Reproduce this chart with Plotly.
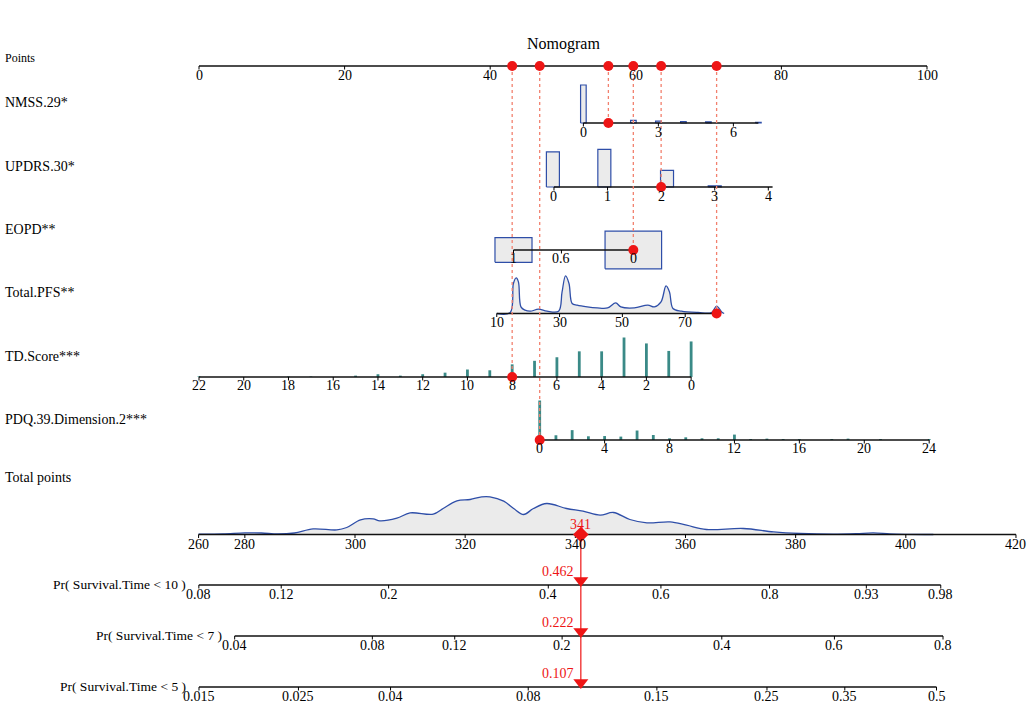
import math
import plotly.graph_objects as go

# ----------------------------- data -----------------------------
points_ticks = [0, 20, 40, 60, 80, 100]

nmss_ticks = [0, 3, 6]
nmss_axis = [0, 7]
nmss_bins = [0, 1, 2, 3, 4, 5, 7]
nmss_freq = [100, 4, 7, 5, 4, 3, 2]

updrs_ticks = [0, 1, 2, 3, 4]
updrs_axis = [0, 4.08]
updrs_bins = [-0.02, 0.94, 2.11, 3.0]
updrs_freq = [93, 100, 44, 3]

eopd_ticks = [1, 0.6, 0]
eopd_levels = [1, 0]
eopd_prop = [0.30, 0.70]

pfs_ticks = [10, 30, 50, 70]
pfs_axis = [10, 80]
pfs_x = [10, 14.3, 15.3, 16.2, 16.9, 17.7, 19, 20.7, 23.3, 26, 29.7, 30.8, 31.9, 33, 34,
         35.6, 38.8, 42, 45.3, 47.9, 49.5, 53.8, 58.1, 60.2, 62.3, 63.9, 65, 66.1, 68.8,
         74.1, 78.4, 80, 81.6, 82.4]
pfs_dens = [0, 1, 30, 35.6, 31.6, 6.6, 3.3, 2.3, 4.3, 2.3, 2.3, 21.6, 37.6, 30, 10,
            8.3, 6.6, 5.6, 5.6, 10.6, 6.6, 5.6, 8.3, 6.6, 11.6, 27.6, 21.6, 5, 2.3,
            1, 1, 7.3, 1.6, 0]

td_ticks = [22, 20, 18, 16, 14, 12, 10, 8, 6, 4, 2, 0]
td_axis = [22, 0]
td_bins = [22, 18, 17, 15, 14, 13, 12, 11, 10, 9, 8, 7, 6, 5, 4, 3, 2, 1, 0]
td_freq = [1.8, 1.3, 1.3, 3.5, 7, 3.5, 7, 11, 19, 17, 32, 41, 50, 65, 65, 100, 85, 66, 90]

pdq_ticks = [0, 4, 8, 12, 16, 20, 24]
pdq_axis = [0, 24]
pdq_bins = [0, 1, 2, 3, 4, 5, 6, 7, 8, 9, 10, 11, 12, 13, 14, 15, 16, 18, 19, 21, 24]
pdq_freq = [100, 12, 25, 9.4, 10, 8.6, 24, 12.7, 4.3, 6.8, 4.3, 4.3, 13.7, 2.5, 3.5,
            2.5, 2.5, 2.5, 3.5, 2.5, 2.5]

total_ticks = [280, 300, 320, 340, 360, 380, 400, 420]
total_axis = [271.6, 420]
total_start_label = "260"
total_x = [271.6, 276, 280, 283, 286, 289, 292.4, 296.7, 298.5, 301, 303.3, 304.5, 307.6,
           310, 314.2, 316, 318.5, 320.9, 323, 324.5, 327, 328.8, 330.6, 332.4, 334.8,
           338.4, 341.4, 344.5, 346.9, 349.9, 353, 357.2, 360.2, 363.8, 370.5, 376,
           380.8, 386.8, 391, 394.1, 397.1, 400, 405]
total_dens = [0.3, 0.5, 1.6, 1.5, 0.5, 1.5, 5.6, 4.6, 7, 14.6, 15.6, 13.6, 16.3,
              21.6, 20.3, 26, 33.6, 35, 37.6, 37.6, 33.3, 26, 20, 26, 31,
              26, 23.3, 19.3, 22, 15, 11.6, 12.6, 9.3, 5, 6, 2.6,
              1, 0.3, 0.8, 1.6, 0.6, 0.2, 0]

pr_labels = ["Pr( Survival.Time < 10 )", "Pr( Survival.Time < 7 )", "Pr( Survival.Time < 5 )"]
pr_ticks = [[0.08, 0.12, 0.2, 0.4, 0.6, 0.8, 0.93, 0.98],
            [0.04, 0.08, 0.12, 0.2, 0.4, 0.6, 0.8],
            [0.015, 0.025, 0.04, 0.08, 0.15, 0.25, 0.35, 0.5]]
pr_intercept = [358.6, 390.1, 418.4]   # total points where cloglog(p) = 0
pr_slope = 35.0                         # total points per cloglog unit

# patient
pat_nmss, pat_updrs, pat_eopd, pat_pfs, pat_td, pat_pdq = 1, 2, 0, 80, 8, 0
pat_total = 341
pat_probs = ["0.462", "0.222", "0.107"]

row_labels = ["Points", "NMSS.29*", "UPDRS.30*", "EOPD**", "Total.PFS**",
              "TD.Score***", "PDQ.39.Dimension.2***", "Total points"]

# ----------------------------- scales (value -> points) -----------------------------
def lin(v0, p0, v1, p1):
    return lambda v: p0 + (v - v0) * (p1 - p0) / (v1 - v0)

nmss_s = lin(0, 52.8, 7, 52.8 + 7 * 3.434)
upd_s = lin(0, 48.76, 4, 78.2)
eopd_s = lin(1, 43.2, 0, 59.66)
pfs_s = lin(10, 40.9, 80, 71.1)
td_s = lin(22, 0.0, 0, 67.6)
pdq_s = lin(0, 46.8, 24, 100.3)
tot_s = lin(300, 21.43, 420, 21.43 + 120 * 0.7566)


def pr_s(i):
    return lambda p: tot_s(pr_intercept[i] + pr_slope * math.log(-math.log(1 - p)))


# ----------------------------- layout constants -----------------------------
W, H = 1030, 704
X0, PXU = 199.0, 7.28          # pixel of 0 points, pixels per point
FONT = "Liberation Serif, Times New Roman, serif"
BLUE = "#2E4EA8"
GRAYF = "#EBEBEB"
TEAL = "#3A8A87"
RED = "#EE1515"
DOT = "#F2806E"
TICK_FS = 14

Y_PTS, Y_NMSS, Y_UPD, Y_EOPD, Y_PFS, Y_TD, Y_PDQ, Y_TOT = 66, 123, 187, 250, 313.5, 377, 440, 534.5
Y_PR = [585, 636, 687]
LABEL_Y = [58, 102, 166, 229, 292, 356, 419, 477]


def w(px):
    return px / PXU


fig = go.Figure()


def line_tr(xs, ys, color="black", width=1.3, dash=None, shape="linear"):
    fig.add_trace(go.Scatter(x=xs, y=ys, mode="lines", hoverinfo="skip",
                             line=dict(color=color, width=width, dash=dash, shape=shape)))


def add_axis(p0, p1, y, tick_pts, tick_txt, dy=9.0, size=TICK_FS):
    line_tr([p0, p1], [y, y], width=1.5, color="#111111")
    xs, ys = [], []
    for p in tick_pts:
        xs += [p, p, None]
        ys += [y, y + 3.5, None]
    line_tr(xs, ys, width=1)
    for p, t in zip(tick_pts, tick_txt):
        fig.add_annotation(x=p, y=y + dy, text=t, showarrow=False, xanchor="center",
                           yanchor="middle", font=dict(family=FONT, size=size, color="black"))


def rect_trace(cx, widths, y0s, y1s, fill, lcolor, lw=1.2):
    xs, ys = [], []
    for c, ww, a, b in zip(cx, widths, y0s, y1s):
        xs += [c - ww / 2, c - ww / 2, c + ww / 2, c + ww / 2, c - ww / 2, None]
        ys += [a, b, b, a, a, None]
    fig.add_trace(go.Scatter(x=xs, y=ys, mode="lines", fill="toself", fillcolor=fill,
                             hoverinfo="skip", line=dict(color=lcolor, width=lw)))


def density(xp, hp, base):
    fig.add_trace(go.Scatter(x=xp + xp[::-1], y=[base - h for h in hp] + [base] * len(hp),
                             mode="lines", fill="toself", fillcolor=GRAYF, hoverinfo="skip",
                             line=dict(width=0, color=GRAYF)))
    line_tr(xp, [base - h for h in hp], color=BLUE, width=1.3, shape="spline")


def sticks(xp, hp, base):
    xs, ys = [], []
    for x, h in zip(xp, hp):
        xs += [x, x, None]
        ys += [base, base - h, None]
    line_tr(xs, ys, color=TEAL, width=2.8)


def fmt(v):
    return f"{v:g}"


# ---- NMSS histogram
hmax = 38.0
rect_trace([nmss_s(v) for v in nmss_bins], [w(5.6)] * len(nmss_bins),
           [Y_NMSS] * len(nmss_bins), [Y_NMSS - f / max(nmss_freq) * hmax for f in nmss_freq],
           GRAYF, BLUE)
# ---- UPDRS histogram
hmax = 37.7
rect_trace([upd_s(v) for v in updrs_bins], [w(13)] * len(updrs_bins),
           [Y_UPD] * len(updrs_bins), [Y_UPD - f / max(updrs_freq) * hmax for f in updrs_freq],
           GRAYF, BLUE)
# ---- EOPD boxes
rect_trace([eopd_s(v) for v in eopd_levels], [w(67.6 * math.sqrt(p)) for p in eopd_prop],
           [Y_EOPD + 22.5 * math.sqrt(p) for p in eopd_prop],
           [Y_EOPD - 22.5 * math.sqrt(p) for p in eopd_prop], GRAYF, BLUE)
# ---- PFS density
density([pfs_s(v) for v in pfs_x], [d / max(pfs_dens) * 37.6 for d in pfs_dens], Y_PFS)
# ---- Total points density
density([tot_s(v) for v in total_x], [d / max(total_dens) * 37.6 for d in total_dens], Y_TOT)

# ---- axes
add_axis(points_ticks[0], points_ticks[-1], Y_PTS, points_ticks, [fmt(v) for v in points_ticks])
add_axis(nmss_s(nmss_axis[0]), nmss_s(nmss_axis[1]), Y_NMSS, [nmss_s(v) for v in nmss_ticks],
         [fmt(v) for v in nmss_ticks])
add_axis(upd_s(updrs_axis[0]), upd_s(updrs_axis[1]), Y_UPD, [upd_s(v) for v in updrs_ticks],
         [fmt(v) for v in updrs_ticks])
add_axis(eopd_s(eopd_ticks[0]), eopd_s(eopd_ticks[-1]), Y_EOPD, [eopd_s(v) for v in eopd_ticks],
         [fmt(v) for v in eopd_ticks], dy=8.5)
add_axis(pfs_s(pfs_axis[0]), pfs_s(pfs_axis[1]), Y_PFS, [pfs_s(v) for v in pfs_ticks],
         [fmt(v) for v in pfs_ticks])

# ---- TD / PDQ sticks then axes
sticks([td_s(v) for v in td_bins], [f / max(td_freq) * 39.5 for f in td_freq], Y_TD)
sticks([pdq_s(v) for v in pdq_bins], [f / max(pdq_freq) * 39.5 for f in pdq_freq], Y_PDQ)
add_axis(td_s(td_axis[0]), td_s(td_axis[1]), Y_TD, [td_s(v) for v in td_ticks],
         [fmt(v) for v in td_ticks], dy=8.5)
add_axis(pdq_s(pdq_axis[0]), pdq_s(pdq_axis[1]), Y_PDQ, [pdq_s(v) for v in pdq_ticks],
         [fmt(v) for v in pdq_ticks], dy=8.5)

# ---- total points axis
add_axis(tot_s(total_axis[0]), tot_s(total_axis[1]), Y_TOT,
         [tot_s(total_axis[0])] + [tot_s(v) for v in total_ticks],
         [total_start_label] + [fmt(v) for v in total_ticks], dy=10)

# ---- probability axes
for i, (lab, ticks) in enumerate(zip(pr_labels, pr_ticks)):
    s = pr_s(i)
    add_axis(s(ticks[0]), s(ticks[-1]), Y_PR[i], [s(p) for p in ticks], [fmt(p) for p in ticks],
             dy=9.5)
    fig.add_annotation(x=s(ticks[0]) - w(11), y=Y_PR[i] - 1, text=lab, showarrow=False,
                       xanchor="right", yanchor="middle",
                       font=dict(family=FONT, size=13.5, color="black"))

# ---- patient projection (dotted lines + red dots)
pat = [(td_s(pat_td), Y_TD), (pdq_s(pat_pdq), Y_PDQ), (nmss_s(pat_nmss), Y_NMSS),
       (eopd_s(pat_eopd), Y_EOPD), (upd_s(pat_updrs), Y_UPD), (pfs_s(pat_pfs), Y_PFS)]
xs, ys = [], []
for p, y in pat:
    xs += [p, p, None]
    ys += [Y_PTS, y, None]
line_tr(xs, ys, color=DOT, width=1.3, dash="dot")
fig.add_trace(go.Scatter(x=[p for p, _ in pat] * 2, y=[Y_PTS] * len(pat) + [y for _, y in pat],
                         mode="markers", hoverinfo="skip",
                         marker=dict(color=RED, size=10, line=dict(width=0))))

# ---- total points -> probabilities
tx = tot_s(pat_total)
line_tr([tx, tx], [Y_TOT, Y_PR[-1]], color=RED, width=1.2)
fig.add_trace(go.Scatter(x=[tx], y=[Y_TOT], mode="markers", hoverinfo="skip",
                         marker=dict(symbol="diamond", color=RED, size=12, line=dict(width=0))))
fig.add_trace(go.Scatter(x=[tx] * 3, y=[y - 4.5 for y in Y_PR], mode="markers", hoverinfo="skip",
                         marker=dict(symbol="triangle-down", color=RED, size=13, line=dict(width=0))))
fig.add_annotation(x=tx, y=Y_TOT - 10, text=str(pat_total), showarrow=False, xanchor="center",
                   yanchor="middle", font=dict(family=FONT, size=14, color=RED))
for y, t in zip(Y_PR, pat_probs):
    fig.add_annotation(x=tx - w(5), y=y - 14, text=t, showarrow=False, xanchor="right",
                       yanchor="middle", font=dict(family=FONT, size=14, color=RED))

# ---- row labels and title
for lab, y in zip(row_labels, LABEL_Y):
    fig.add_annotation(x=3 / W, xref="paper", y=y, text=lab, showarrow=False, xanchor="left",
                       yanchor="middle",
                       font=dict(family=FONT, size=12 if lab == "Points" else 14, color="black"))
fig.add_annotation(x=50, y=44, text="Nomogram", showarrow=False, xanchor="center", yanchor="middle",
                   font=dict(family=FONT, size=16, color="black"))

fig.update_layout(
    width=W, height=H, margin=dict(l=0, r=0, t=0, b=0),
    paper_bgcolor="white", plot_bgcolor="white", showlegend=False,
    xaxis=dict(range=[(0 - X0) / PXU, (W - X0) / PXU], visible=False, fixedrange=True),
    yaxis=dict(range=[H, 0], visible=False, fixedrange=True),
)
fig.write_html("out.html", config={"displayModeBar": False},
               post_script="document.body.style.margin='0';document.body.style.overflow='hidden';")
